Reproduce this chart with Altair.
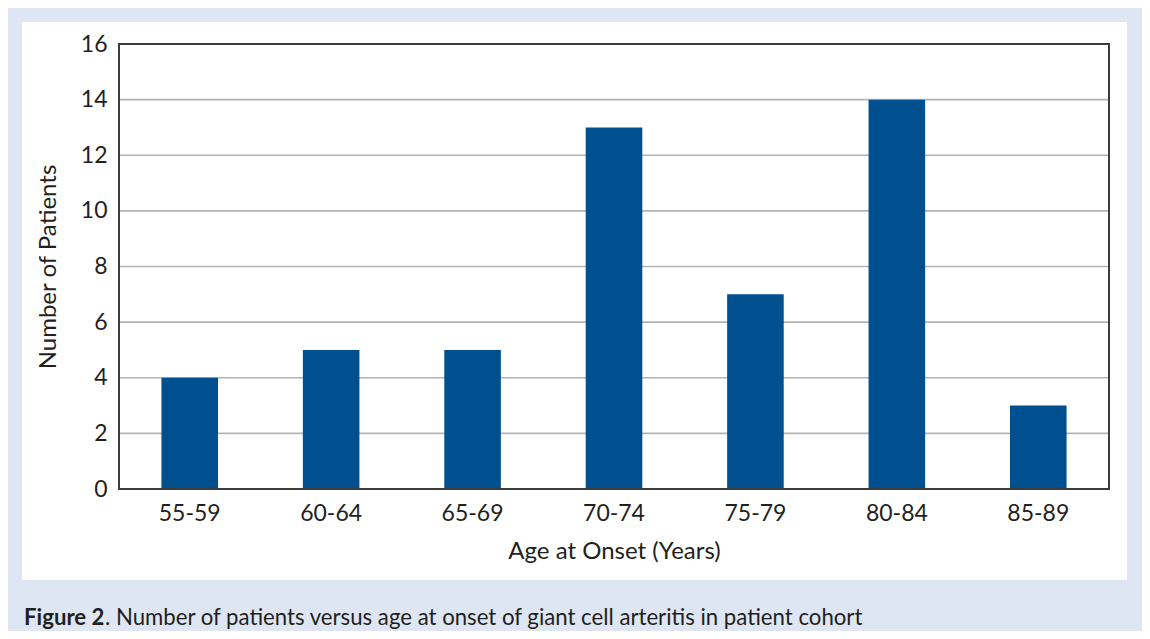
import altair as alt
import pandas as pd

ages = ["55-59", "60-64", "65-69", "70-74", "75-79", "80-84", "85-89"]
patients = [4, 5, 5, 13, 7, 14, 3]
y_ticks = [0, 2, 4, 6, 8, 10, 12, 14, 16]
x_title = "Age at Onset (Years)"
y_title = "Number of Patients"
caption_bold = "Figure 2"
caption_rest = ". Number of patients versus age at onset of giant cell arteritis in patient cohort"

W, H = 990, 445
FONT = "Lato"
BLUE_BG = "#dfe6f3"
BAR = "#004f8e"
TXT = "#231f20"

bars_df = pd.DataFrame({"age": ages, "n": patients})
grid_df = pd.DataFrame({"v": y_ticks[1:]})
one = pd.DataFrame({"a": [0]})

y_scale = alt.Scale(domain=[0, 16])
y_axis = alt.Axis(values=y_ticks, title=y_title, grid=False, domain=False, ticks=False,
                  labelPadding=12, titlePadding=20, zindex=1)

panel = alt.Chart(one).mark_rect(color="white").encode(
    x=alt.value(-97), x2=alt.value(1008), y=alt.value(-22), y2=alt.value(536))

grid = alt.Chart(grid_df).mark_rule(color="#b3b3b3", strokeWidth=1.6).encode(
    y=alt.Y("v:Q", scale=y_scale, axis=y_axis))

bars = alt.Chart(bars_df).mark_bar(color=BAR).encode(
    x=alt.X("age:N", sort=ages,
            scale=alt.Scale(paddingInner=0.6, paddingOuter=0.3),
            axis=alt.Axis(title=x_title, labelAngle=0, domain=False, ticks=False,
                          labelPadding=13, titlePadding=14, zindex=1)),
    y=alt.Y("n:Q", scale=y_scale, axis=y_axis))

frame = alt.Chart(one).mark_rect(fillOpacity=0, stroke="#3c3c3c", strokeWidth=2).encode(
    x=alt.value(0), x2=alt.value(W), y=alt.value(0), y2=alt.value(H))

cap1 = alt.Chart(one).mark_text(font=FONT, fontSize=22.2, fontWeight="bold", align="left",
                                baseline="alphabetic", color=TXT).encode(
    x=alt.value(-95), y=alt.value(581), text=alt.value(caption_bold))
cap2 = alt.Chart(one).mark_text(font=FONT, fontSize=22.2, align="left",
                                baseline="alphabetic", color=TXT).encode(
    x=alt.value(-14), y=alt.value(581), text=alt.value(caption_rest))

chart = alt.layer(panel, grid, bars, frame, cap1, cap2).properties(
    width=W, height=H,
    background=BLUE_BG,
    padding={"left": 111, "top": 36, "right": 33, "bottom": 142},
    autosize=alt.AutoSizeParams(type="none"),
).configure_view(strokeWidth=0).configure_axis(
    labelFont=FONT, labelFontSize=23, labelColor=TXT,
    titleFont=FONT, titleFontSize=24, titleFontWeight="normal", titleColor=TXT,
)

chart.save("out.html", embed_options={"renderer": "svg", "actions": False})
